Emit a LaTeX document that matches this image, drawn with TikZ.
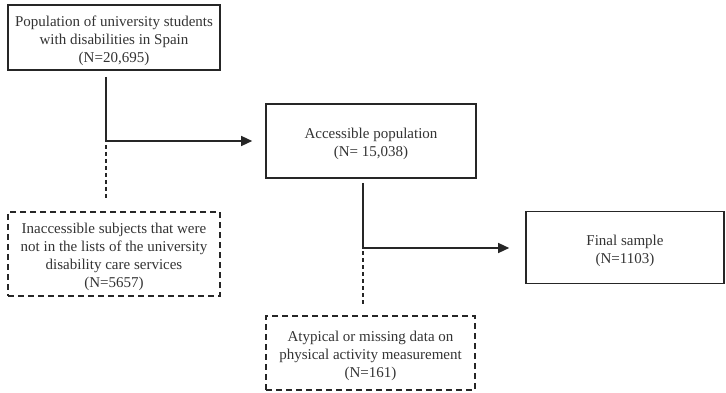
\documentclass[tikz,border=0pt]{standalone}
\usepackage{fontspec}
\setmainfont{Liberation Serif}
\usetikzlibrary{arrows.meta}
\newcommand{\boxtext}[1]{\raisebox{-3pt}[\height][\depth]{\begin{tabular}{@{}c@{}}#1\end{tabular}}}
\begin{document}
\begin{tikzpicture}[x=1pt,y=-1pt,
  solidbox/.style={draw=black!85,line width=1.6pt,rectangle,inner sep=0pt,
    font=\fontsize{15}{18}\selectfont,text=black!80},
  dashbox/.style={solidbox,dash pattern=on 6pt off 4pt,line width=1.5pt},
  conn/.style={draw=black!85,line width=1.4pt},
  dconn/.style={draw=black!85,line width=1.4pt,dash pattern=on 4pt off 3pt},
  arr/.style={conn,-{Triangle[length=11pt,width=10pt]}}]
\useasboundingbox (0,0) rectangle (726,393);
\node[solidbox,minimum width=212pt,minimum height=65pt] (b1) at (114,37.5)
  {\boxtext{Population of university students\\with disabilities in Spain\\(N=20,695)}};
\node[solidbox,minimum width=210pt,minimum height=74pt] (b2) at (371,141)
  {\boxtext{Accessible population\\(N= 15,038)}};
\node[solidbox,minimum width=198pt,minimum height=72pt] (b3) at (625,247.5)
  {\boxtext{Final sample\\(N=1103)}};
\node[dashbox,minimum width=212pt,minimum height=84pt] (d1) at (114,254)
  {\boxtext{Inaccessible subjects that were\\not in the lists of the university\\disability care services\\(N=5657)}};
\node[dashbox,minimum width=209pt,minimum height=74pt] (d2) at (370.5,353)
  {\boxtext{Atypical or missing data on\\physical activity measurement\\(N=161)}};
% junctions
\coordinate (s1) at (106,77);
\coordinate (j1) at (106,141);
\coordinate (s2) at (363,183);
\coordinate (j2) at (363,248);
\draw[arr] (s1) -- (j1) -- ([xshift=-13pt]b2.west |- j1);
\draw[dconn] ([yshift=-4pt]j1) -- ([yshift=12pt]d1.north -| j1);
\draw[arr] (s2) -- (j2) -- ([xshift=-16pt]b3.west |- j2);
\draw[dconn] ([yshift=-3pt]j2) -- ([yshift=9pt]d2.north -| j2);
\end{tikzpicture}
\end{document}
